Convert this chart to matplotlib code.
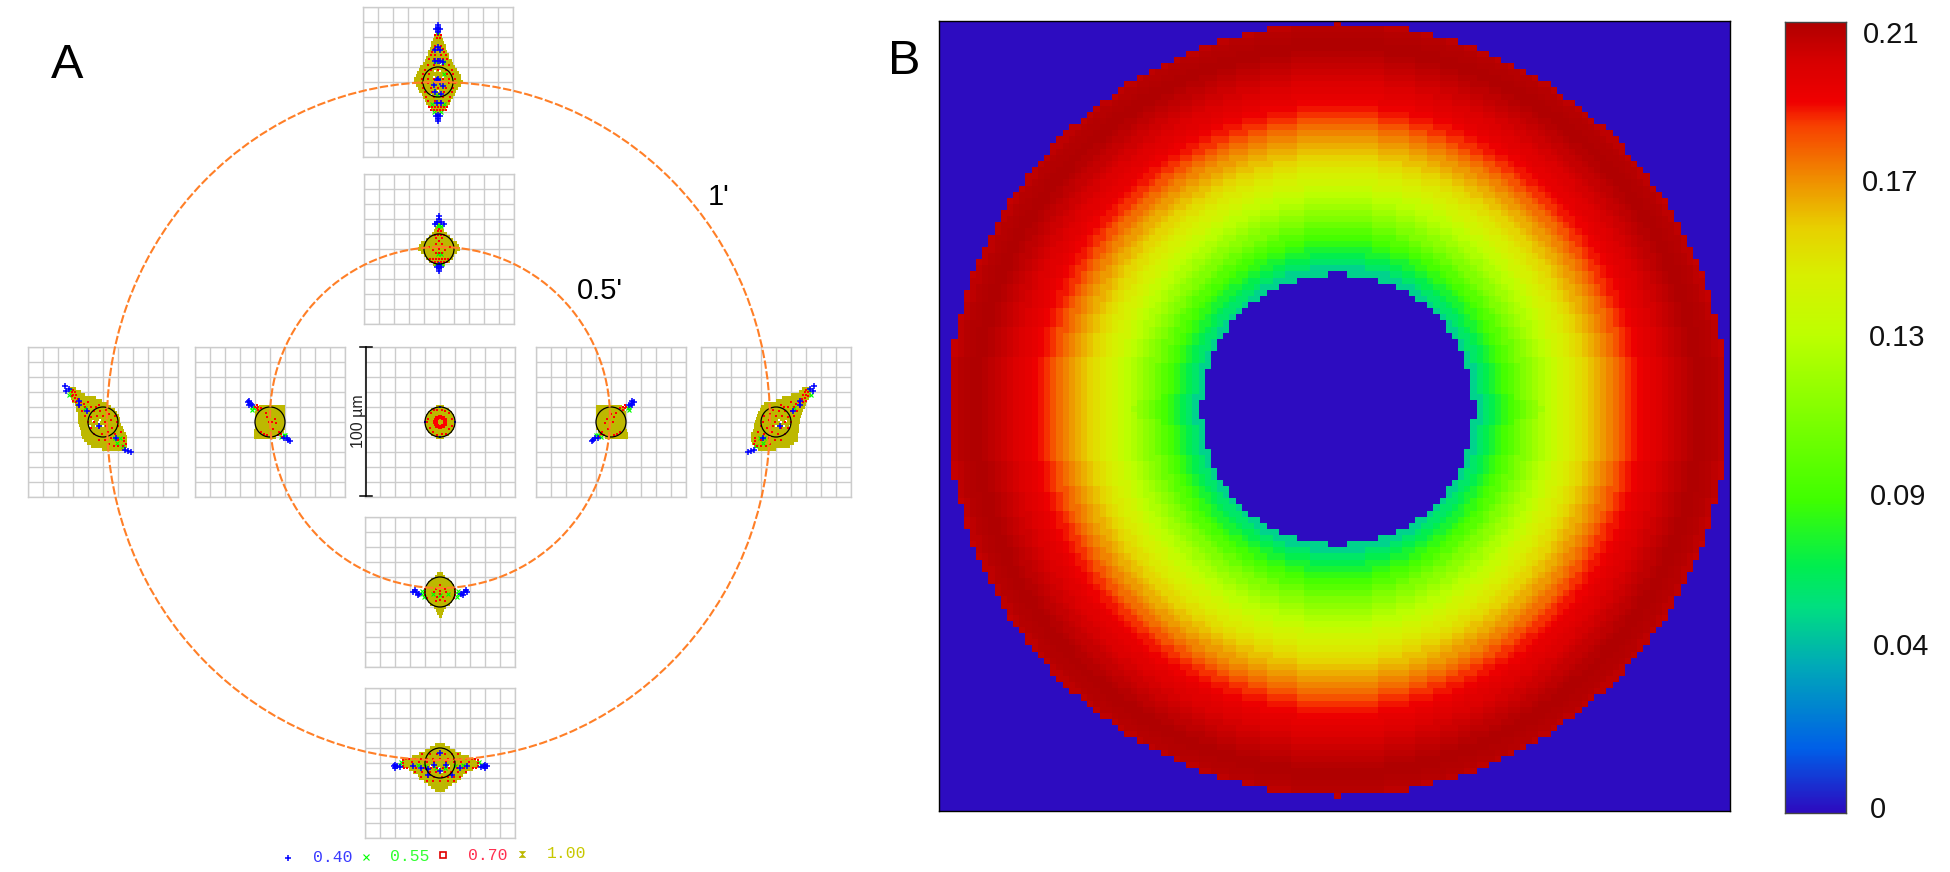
import numpy as np
import matplotlib
matplotlib.use("Agg")
import matplotlib.pyplot as plt
from matplotlib.colors import LinearSegmentedColormap
from matplotlib.patches import Ellipse

plt.rcParams['font.family'] = ['Liberation Sans', 'DejaVu Sans']

W, H = 1950, 872

# panel B: value of each ring of cells, ring 23 (edge of the hole) up to ring 66
ring_first = 23
ring_values = [.051, .060, .066, .072, .079, .085, .091, .098, .105, .110,
               .116, .121, .126, .131, .137, .141, .145, .149, .153, .158,
               .162, .166, .170, .174, .179, .184, .187, .190, .193, .195,
               .197, .200, .202, .204, .206, .208, .210, .210, .209, .208,
               .206, .204, .203, .202]
cbar_labels = ['0.21', '0.17', '0.13', '0.09', '0.04', '0']
cmap_pos = [0, .08, .185, .26, .31, .395, .606, .68, .74, .80, .87, .90, .95, 1]
cmap_col = ['#2d0cc0', '#0060e8', '#00aab8', '#00e080', '#00ee50', '#40ff00', '#bfff00',
            '#d8f000', '#e8d000', '#f09000', '#f84000', '#f00000', '#d80000', '#b00000']

# panel A: spot rows in um (row y, left end, right end), then the stipple of each wavelength
top_y = [32, 30, 28, 26, 24, 22, 20, 18, 16, 14, 12, 10, 8, 6, 4, 2, 0, -2, -4, -6, -8, -10, -12, -14, -16, -18, -20]
top_l = [-1.5, -2.5, -3.5, -4.5, -5, -5.5, -6.5, -7, -8, -9, -10, -12, -13, -14, -15, -16, -16, -15, -13.5, -12.5, -11, -10, -9, -8, -7, -5, -2]
top_r = [1.5, 2.5, 3.5, 4, 5, 5.5, 6, 7, 7.5, 9, 10, 11.5, 12.5, 14, 15, 15.5, 16.5, 15, 13.5, 12, 11, 10, 8.5, 8, 6.5, 5, 2]
top_red_x = [-2, 0, 2, -1, 1, -2, 2, -3, 0, 3, -4, 4, -5, -2, 2, 5, -6, -3, 0, 3, 6, -7, -3, 3, 7, -9, -5, 0, 5, 9, -10, -6, 6, 10,
             -11, -7, -3, 3, 7, 11, -11, -7, 7, 11, -10, -5, 0, 5, 10, -9, -4, 4, 9, -8, -3, 3, 8, -7, -2, 2, 7, -6, -4, -2, 0, 2, 4, 6, -5, -3, -1, 1, 3, 5]
top_red_y = [31, 31, 31, 29.5, 29.5, 24, 24, 22, 22, 22, 20, 20, 18, 18, 18, 18, 15, 15, 15, 15, 15, 11, 11, 11, 11, 8, 8, 8, 8, 8, 5, 5, 5, 5,
             2, 2, 2, 2, 2, 2, -1, -1, -1, -1, -4, -4, -4, -4, -4, -7, -7, -7, -7, -10, -10, -10, -10, -13, -13, -13, -13, -17, -17, -17, -17, -17, -17, -17, -18.5, -18.5, -18.5, -18.5, -18.5, -18.5]
top_blue_x = [0, 0, -1.5, 1.5, 0, 0, 0, -1.5, 1.5, 0, 0, -2, 1, 0, -2, 1, 3, -1, 1, 0, -3, 3, -2, 2, -1, 2]
top_blue_y = [38, 36, 35, 35, 33, -26, -25, -23, -23, -22, 23, 21, 21, 14, 14, 14, 13, 1, 0, 2, -2, -3, -7, -8, -14, -14]
top_green_x = [0, -2, 3, -4, 4, -3, 2, 4, -1]
top_green_y = [33, 14, 13, -15, -15, -20, -20, 5, -9]
top_white_x = [-2, 1, 3, -3, 0, -5, 2]
top_white_y = [7, 7, 3, 3, -6, -9, 12]

bot_y = [12, 10, 8, 6, 4, 2, 0, -2, -4, -6, -8, -10, -12, -14, -16, -18]
bot_l = [-3.5, -7, -10, -14, -19, -24, -25, -25, -21, -18, -15, -14, -11, -8, -6, -3.5]
bot_r = [3.5, 6.5, 10, 14, 19, 24, 25, 25, 22, 18, 15, 14, 11, 8, 5.5, 3]
bot_red_x = [-25, -25, -25, -24, 25, 25, 25, 24, -23, 23,
             -21, -17, -13, -9, -5, 0, 5, 9, 13, 17, 21, -19, -14, -9, -4, 4, 9, 14, 19,
             -22, -16, -11, -6, -2, 2, 6, 11, 16, 22, -17, -12, -7, -3, 3, 7, 12, 17,
             -12, -7, -2, 3, 8, 12, -13, -8, -4, 1, 5, 9, 13, -9, -5, 0, 5, 9]
bot_red_y = [2, 0, -2, -3.5, 2, 0, -2, -3.5, 3, 3,
             3, 3, 3, 3, 3, 3, 3, 3, 3, 3, 3, 1, 1, 1, 1, 1, 1, 1, 1,
             -3, -3, -3, -3, -3, -3, -3, -3, -3, -3, -6, -6, -6, -6, -6, -6, -6, -6,
             6, 6, 6, 6, 6, 6, -9, -9, -9, -9, -9, -9, -9, -12, -12, -12, -12, -12]
bot_blue_x = [-31, -29, -27, -30, -30, 31, 29, 27, 30, 30, -18, -13, -8, -4, 0, 0, -8, 8, 13, 18, 4]
bot_blue_y = [-2, -2, -2.5, -1, -3.5, -2, -2, -2.5, -1, -3.5, -2, -3, -4, -1, -5, 7, -8, -8, -3, -2, -1]
bot_green_x = [-26, -27, 26, 27, -15, -10, -3, 3, 10, 15]
bot_green_y = [1, -1, 1, -1, -1, -2, -3, -3, -2, -1]
bot_white_x = [-14, -6, -1, 1, 6, 14, -3, 3]
bot_white_y = [-3, -2, -3, -6, -2, -3, -6, -6]

left_y = [22, 20, 18, 16, 14, 12, 10, 8, 6, 4, 2, 0, -2, -4, -6, -8, -10, -12, -14, -16, -18]
left_l = [-22, -22.5, -22, -21.5, -21, -19, -18, -18, -17, -16.5, -16.5, -16.5, -16, -15.5, -15, -14.5, -14, -13, -11, -8, -1]
left_r = [-18, -15, -12, -5, -1, 3, 5, 8, 9.5, 10.5, 11, 11.5, 12, 13, 14, 15, 16, 16, 16, 16, 15.5]
right_y = [22, 20, 18, 16, 14, 12, 10, 8, 6, 4, 2, 0, -2, -4, -6, -8, -10, -12, -14, -16, -18]
right_l = [17, 15, 10, 4, 0, -8, -10, -11, -12, -13, -13.5, -14, -14.5, -15, -15.5, -16.5, -16.5, -16.5, -16, -15, -12]
right_r = [23, 23, 23, 22, 20.5, 20, 19, 18, 17, 16.5, 16, 16, 15.5, 15.5, 15, 14.5, 14.5, 14.5, 12, 9, 0]
left_red_x = [-21, -20, -19, -20, -18, -21, -19, -17, -20, -18, -15, -13, -10, -16, -12, -8, -5, -3, -14, -10, -6, -2, 2,
              -12, -8, -4, 0, 4, 8, -10, -6, 1, 5, 9, -8, -3, 2, 6, 10, -6, -1, 3, 8, 12, -3, 1, 5, 10, 14, 14, 15, 13, 10, 7, 4]
left_red_y = [20, 21, 20, 18, 18, 17, 16, 15, 14, 13, 13, 12, 13, 10, 10, 10, 10, 11, 7, 7, 7, 7, 8,
              4, 3, 4, 4, 5, 4, 0, 0, 0, 1, 0, -4, -4, -3, -4, -3, -8, -8, -7, -8, -7, -12, -12, -11, -12, -11, -13, -15, -16, -16, -16, -15]
left_blue_x = [-25.5, -24.4, -22.7, -16, -16, -11, -2.7, 8.9, 14.4, 16.7, 18.4]
left_blue_y = [23.8, 20.4, 22, 13.8, 11.5, 7, -2.4, -10.7, -18.4, -19.6, -20]
left_green_x = [-22, -23, -12, 8, 11, 13.3, 9]
left_green_y = [21.5, 18, 9, -10.7, -10.7, -16, -14]
left_white_x = [-3, -2, -5, -6.5, 0, -9]
left_white_y = [0, 1.5, -2.5, 0.5, -3, -3]

in_top_y = [16, 14, 12, 10, 8, 6, 4, 2, 0, -2, -4, -6, -8, -10]
in_top_l = [-1.5, -2.5, -3.5, -5, -7, -9, -12, -13.5, -14, -12, -10, -9, -7, -4]
in_top_r = [1.5, 2.5, 3.5, 5, 7, 9, 12, 13.5, 14, 12, 10, 9, 7, 4]
in_top_red_x = [-1, 0, 1, -3, -1, 1, 3, -2, 2, 0, -2, 2, -7, 7, 0, -4, 4, -2, 0, 2, -6, -4, -2, 0, 2, 4, 6, -5, -3, -1, 1, 3, 5]
in_top_red_y = [12, 13, 12, 9, 9, 9, 9, 7.5, 7.5, 5, 3, 3, 1.5, 1.5, 0, -1, -1, -3, -3, -3, -7, -7, -7, -7, -7, -7, -7, -8.5, -8.5, -8.5, -8.5, -8.5, -8.5]
in_top_blue_x = [0, 0, -1.5, 1.5, -3, 3, 0, 0, 0, -1.5, 1.5]
in_top_blue_y = [22, 20, 18, 18, 16.5, 16.5, -11, -13, -15, -12, -12]
in_top_green_x = [0, -1, 1, -2, 2, 0, -1, 1]
in_top_green_y = [16, 15.5, 15.5, -10, -10, -9.5, -3.5, -3.5]

in_bot_y = [12, 10, 8, 6, 4, 2, 0, -2, -4, -6, -8, -10, -12, -14, -16]
in_bot_l = [-1.8, -3.5, -6, -8, -9, -9.5, -10.7, -10, -9, -8, -6.5, -4, -2.5, -2, -1]
in_bot_r = [1.8, 3.5, 6, 8, 9, 9.5, 10.7, 10, 9, 8, 6.5, 4, 2.5, 2, 1]
in_bot_red_x = [-10, -10, -10, -9, 10, 10, 10, 9, 0, -3, 3, 0, -4, 0, 4, -2, 2, 0, -3, 3]
in_bot_red_y = [2, 0, -2, -4, 2, 0, -2, -4, 5, 2, 2, 1, 0, -1, 0, -3, -3, -5, -6, -6]
in_bot_blue_x = [-18, -16, -14, -17, -15, 18, 16, 14, 17, 15]
in_bot_blue_y = [0, 0, -1, 1.5, -2, 0, 0, -1, 1.5, -2]
in_bot_green_x = [-12, -12, -11, 12, 12, 11, -5, 5, 0]
in_bot_green_y = [1, -1, -3, 1, -1, -3, -1, -1, -2]

in_side_y = [10, 8, 6, 4, 2, 0, -2, -4, -6, -8, -10]
in_side_l = [-7.5, -9.5, -10, -10.2, -10.2, -10.2, -10.2, -10.2, -10.5, -11, -11]
in_side_r = [10, 10, 10, 10.2, 10.2, 10.2, 10.2, 10.2, 9, 8, 4]
in_side_red_x = [-10, -9, -8, -9, -8, -6, -3, -2, 0, 3, -1, 1, 4, 2, -6, -4, -2, 6, 7, 8, 5]
in_side_red_y = [10, 9, 8, 11, 10, 9, 6, 3, 5, 2, 0, 0, -1, -5, -7, -8, -9, -7, -8, -10, -9]
in_side_blue_x = [-15, -14, -13, -12, -14, 12, 11, 13, 9]
in_side_blue_y = [13, 14, 12, 11, 11.5, -12, -11, -13, -11]
in_side_green_x = [-11, -12, -12, 7, 9, 10]
in_side_green_y = [9, 8, 10, -10, -9, -9]

mid_y = [10, 8, 6, 4, 2, 0, -2, -4, -6, -8, -10]
mid_l = [-2.5, -6, -8, -9.2, -9.9, -10, -9.9, -9.2, -8, -6, -2.5]
mid_r = [2.5, 6, 8, 9.2, 9.9, 10, 9.9, 9.2, 8, 6, 2.5]
mid_ring_x = [3.3, 3, 2, 0, -2, -3, -3.3, -3, -2, 0, 2, 3]
mid_ring_y = [0, 1.5, 2.8, 3.3, 2.8, 1.5, 0, -1.5, -2.8, -3.3, -2.8, -1.5]
mid_red_x = [-4, -2, 1, 3, -6, 6, -8, 8, -9, 8, -7, -5, -2, 1, 4, 6]
mid_red_y = [8, 8, 8, 7.5, 6, 6, 2, 2, 0, -3, -4, -7, -8.5, -8, -8, -5]
mid_blue_x = [-10, 10, 0, 0]
mid_blue_y = [0, 0, 10, -10.3]

legend_vals = ['0.40', '0.55', '0.70', '1.00']
legend_cols = ['#3a3aff', '#30ff30', '#ff3050', '#c8c800']


def px_axes(x0, y0, x1, y1):
    return plt.gcf().add_axes([x0 / W, 1 - y1 / H, (x1 - x0) / W, (y1 - y0) / H])


def spot_box(x0, y0, rows, red=None, blue=None, green=None, white=None, flip=1, blue_ms=3.8):
    ax = px_axes(x0, y0, x0 + 150, y0 + 150)
    ax.set_xlim(-50, 50)
    ax.set_ylim(-50, 50)
    ax.set_xticks(np.arange(-50, 51, 10))
    ax.set_yticks(np.arange(-50, 51, 10))
    ax.tick_params(length=0, labelbottom=False, labelleft=False)
    ax.grid(True, color='#cccccc', lw=1.0)
    ax.set_axisbelow(True)
    for s in ax.spines.values():
        s.set_color('#cccccc')
        s.set_linewidth(1.0)
    y, l, r = rows
    if flip < 0:
        l, r = [-v for v in r], [-v for v in l]
    ax.barh(y, np.array(r) - np.array(l), left=l, height=2.1, color='#bdb800', antialiased=False, zorder=2)
    ax.add_patch(Ellipse((0, 0), 20, 20, fc='#bdb800', ec='none', zorder=2))
    if white is not None:
        ax.plot(flip * np.array(white[0]), white[1], 's', color='white', ms=2.0, mew=0, zorder=3)
    if green is not None:
        ax.plot(flip * np.array(green[0]), green[1], 'x', color='#00ff00', ms=2.4, mew=.8, zorder=3)
    if red is not None:
        ax.plot(flip * np.array(red[0]), red[1], 's', color='#ff0000', ms=2.1, mew=0, zorder=4)
    if blue is not None:
        ax.plot(flip * np.array(blue[0]), blue[1], '+', color='#0000ff', ms=blue_ms, mew=1.1, zorder=5)
    ax.add_patch(Ellipse((0, 0), 20, 20, fc='none', ec='black', lw=0.9, zorder=6))
    return ax


fig = plt.figure(figsize=(W / 100, H / 100), dpi=100)

spot_box(363, 7, (top_y, top_l, top_r), (top_red_x, top_red_y), (top_blue_x, top_blue_y),
         (top_green_x, top_green_y), (top_white_x, top_white_y))
spot_box(365, 688, (bot_y, bot_l, bot_r), (bot_red_x, bot_red_y), (bot_blue_x, bot_blue_y),
         (bot_green_x, bot_green_y), (bot_white_x, bot_white_y))
spot_box(28, 347, (left_y, left_l, left_r), (left_red_x, left_red_y), (left_blue_x, left_blue_y),
         (left_green_x, left_green_y), (left_white_x, left_white_y))
spot_box(701, 347, (right_y, [-v for v in right_r], [-v for v in right_l]), (left_red_x, left_red_y), (left_blue_x, left_blue_y),
         (left_green_x, left_green_y), (left_white_x, left_white_y), flip=-1)
spot_box(364, 174, (in_top_y, in_top_l, in_top_r), (in_top_red_x, in_top_red_y), (in_top_blue_x, in_top_blue_y),
         (in_top_green_x, in_top_green_y))
spot_box(365, 517, (in_bot_y, in_bot_l, in_bot_r), (in_bot_red_x, in_bot_red_y), (in_bot_blue_x, in_bot_blue_y),
         (in_bot_green_x, in_bot_green_y))
spot_box(195, 347, (in_side_y, in_side_l, in_side_r), (in_side_red_x, in_side_red_y), (in_side_blue_x, in_side_blue_y),
         (in_side_green_x, in_side_green_y))
spot_box(536, 347, (in_side_y, in_side_l, in_side_r), (in_side_red_x, in_side_red_y), (in_side_blue_x, in_side_blue_y),
         (in_side_green_x, in_side_green_y), flip=-1)
axm = spot_box(365, 347, (mid_y, mid_l, mid_r), (mid_red_x, mid_red_y), (mid_blue_x, mid_blue_y), blue_ms=1.6)
axm.plot(mid_ring_x, mid_ring_y, 's', color='#ff0000', ms=3.2, mew=0, zorder=4)

# panel B, each cell looks up the value of its ring
rainbow = LinearSegmentedColormap.from_list('ring', list(zip(cmap_pos, cmap_col)), N=512)
ix = np.arange(-64, 64)
iy = np.arange(63, -66, -1)
X, Y = np.meshgrid(ix, iy)
dist = np.hypot(X, Y)
ring = np.rint(np.hypot(X * 1.015, Y)).astype(int)
cells = np.array(ring_values)[np.clip(ring - ring_first, 0, len(ring_values) - 1)]
cells[(dist <= 22.05) | (dist > 63) | (np.abs(X) > 62)] = 0

axb = px_axes(939, 21, 1730, 811)
axb.imshow(cells, cmap=rainbow, vmin=0, vmax=.21, aspect='auto', interpolation='nearest')
axb.set_xticks([])
axb.set_yticks([])
for s in axb.spines.values():
    s.set_linewidth(1.0)

axc = px_axes(1785, 22, 1846, 813)
axc.imshow(np.linspace(.21, 0, 400)[:, None], cmap=rainbow, vmin=0, vmax=.21, aspect='auto')
axc.set_xticks([])
axc.set_yticks([])
for s in axc.spines.values():
    s.set_color('#444444')
    s.set_linewidth(1.0)

# top layer in pixels: field circles, labels
top = fig.add_axes([0, 0, 1, 1])
top.set_xlim(0, W)
top.set_ylim(H, 0)
top.axis('off')
top.patch.set_alpha(0)
top.add_patch(Ellipse((438.5, 421), 663, 678, fc='none', ec='#ff7f27', lw=1.5, ls=(0, (4, 1.2)), zorder=8))
top.add_patch(Ellipse((440, 417.5), 340, 341, fc='none', ec='#ff7f27', lw=1.5, ls=(0, (4, 1.2)), zorder=8))

top.text(67, 65, 'A', fontsize=35, ha='center', va='center')
top.text(904, 62, 'B', fontsize=35, ha='center', va='center')
top.text(719, 197, "1'", fontsize=21, ha='center', va='center')
top.text(600, 291, "0.5'", fontsize=21, ha='center', va='center')
top.text(358, 421, '100 µm', fontsize=11.5, color='#222222', rotation=90, ha='center', va='center')
top.plot([365.5, 365.5], [347, 496], color='black', lw=1.1)
top.plot([360, 372], [347, 347], color='black', lw=1.1)
top.plot([360, 372], [496, 496], color='black', lw=1.1)

cbar_x = [1863, 1862, 1869, 1870, 1873, 1870]
cbar_y = [35, 183, 338, 497, 647, 810]
for lab, x, y in zip(cbar_labels, cbar_x, cbar_y):
    top.text(x, y, lab, fontsize=21, color='#111111', ha='left', va='center')

# legend under panel A
hourglass = [(-1, -1), (1, -1), (-1, 1), (1, 1), (-1, -1)]
top.plot([288], [858], '+', color='#0000ff', ms=5, mew=1.1)
top.plot([366], [857], 'x', color='#00ff00', ms=4, mew=.8)
top.plot([443], [855], 's', mfc='white', mec='#e00000', ms=4.5, mew=1.2)
top.plot([522], [854], marker=hourglass, color='#bdb800', ms=4.5, mew=.4)
leg_x = [333, 410, 488, 567]
leg_y = [857, 856, 855, 853]
for lab, col, x, y in zip(legend_vals, legend_cols, leg_x, leg_y):
    top.text(x, y, lab, fontsize=11.8, family='Liberation Mono', color=col, ha='center', va='center')

fig.savefig('out.png', dpi=100)
